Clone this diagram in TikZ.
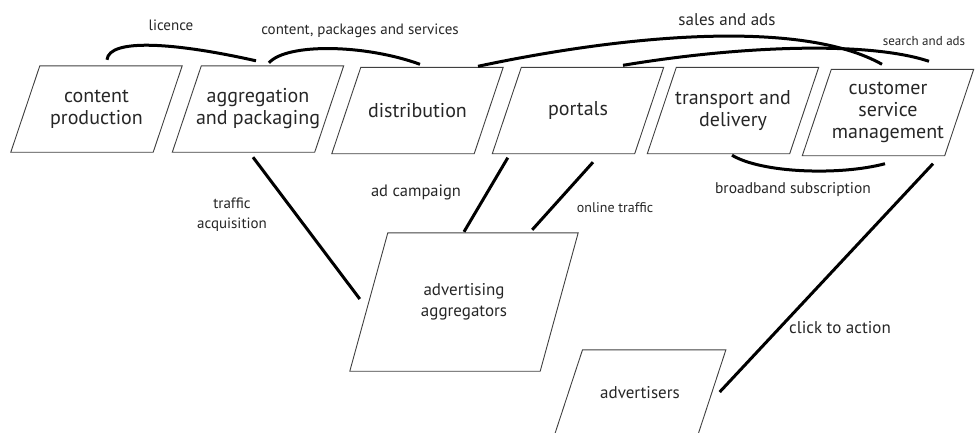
\documentclass[tikz,border=0pt]{standalone}
\usepackage{fontspec}
\setmainfont{PT Sans}

\begin{document}
\begin{tikzpicture}[x = 1pt, y = 1pt,
		frame/.style = {draw = black!75, line width = 0.9pt},
		box/.style = {minimum width = 142pt, minimum height = 86pt, inner sep = 0pt, align = center, text = black!85, font = \fontsize{20}{22}\selectfont,
			append after command = {\pgfextra{\draw[frame] ([xshift = #1]\tikzlastnode.north west) -- ([xshift = #1]\tikzlastnode.north east) -- ([xshift = -#1]\tikzlastnode.south east) -- ([xshift = -#1]\tikzlastnode.south west) -- cycle;}}},
		box/.default = 14.5pt,
		link/.style = {line width = 3pt},
		lbl/.style = {text = black!85, align = center, inner sep = 0pt}]
	\useasboundingbox (0, 0) rectangle (978, -432);
	\node[box] (production) at (96.5, -109) {content\\production};
	\node[box] (aggregation) at (258, -109) {aggregation\\and packaging};
	\node[box] (distribution) at (417.5, -110.5) {distribution};
	\node[box] (portals) at (578, -110.5) {portals};
	\node[box] (transport) at (733, -110.5) {transport and\\delivery};
	\node[box] (customer) at (888, -112.5) {customer\\service\\management};
	\node[box = 19pt, minimum width = 190pt, minimum height = 138pt, font = \fontsize{17}{21}\selectfont] (adaggregators) at (464, -302) {advertising\\aggregators};
	\node[box = 14.2pt, minimum width = 143pt, font = \fontsize{17}{21}\selectfont] (advertisers) at (640, -393) {advertisers};
	\draw[link] ([shift = {(10.5, 6)}]production.north) .. controls +(2, 22) and +(-80, 18) .. ([shift = {(-2, 5)}]aggregation.north);
		\node[lbl, font = \fontsize{15}{18}\selectfont] (licence) at (171, -25) {licence};
	\draw[link] ([shift = {(11, 3)}]aggregation.north) .. controls +(18, 20) and +(-55, 20) .. ([shift = {(2.5, 3)}]distribution.north);
		\node[lbl, font = \fontsize{15}{18}\selectfont] (packages) at (360, -31) {content, packages and services};
	\draw[link] ([shift = {(60.5, 1)}]distribution.north) .. controls +(150, 32) and +(-80, 45) .. ([shift = {(-6, 5)}]customer.north);
		\node[lbl, font = \fontsize{17}{20}\selectfont] (sales) at (727, -20) {sales and ads};
	\draw[link] ([shift = {(45, 2)}]portals.north) .. controls +(120, 20) and +(-60, 20) .. ([shift = {(41, 8)}]customer.north);
		\node[lbl, font = \fontsize{13}{16}\selectfont] (search) at (924, -41) {search and ads};
	\draw[link] ([shift = {(-1, -1.5)}]transport.south) .. controls +(30, -18) and +(-45, -12) .. ([shift = {(-3, -8)}]customer.south);
		\node[lbl, font = \fontsize{15.5}{18}\selectfont] (broadband) at (793, -190) {broadband subscription};
	\draw[link] ([shift = {(-5, -5)}]aggregation.south) -- ([shift = {(-9, 3)}]adaggregators.west);
		\node[lbl, font = \fontsize{15}{20}\selectfont] (traffic) at (232, -215) {traffic\\acquisition};
	\draw[link] ([shift = {(1, -4)}]portals.south west) -- ([shift = {(0, 1)}]adaggregators.north);
		\node[lbl, font = \fontsize{16.5}{20}\selectfont] (campaign) at (416, -192) {ad campaign};
	\draw[link] ([shift = {(15, -8.5)}]portals.south) -- ([shift = {(-27, 3)}]adaggregators.north east);
		\node[lbl, font = \fontsize{14}{17}\selectfont] (online) at (615, -208) {online traffic};
	\draw[link] ([shift = {(45, -8)}]customer.south) -- ([shift = {(8, 1)}]advertisers.east);
		\node[lbl, font = \fontsize{17}{20}\selectfont] (click) at (840, -328) {click to action};
\end{tikzpicture}
\end{document}
